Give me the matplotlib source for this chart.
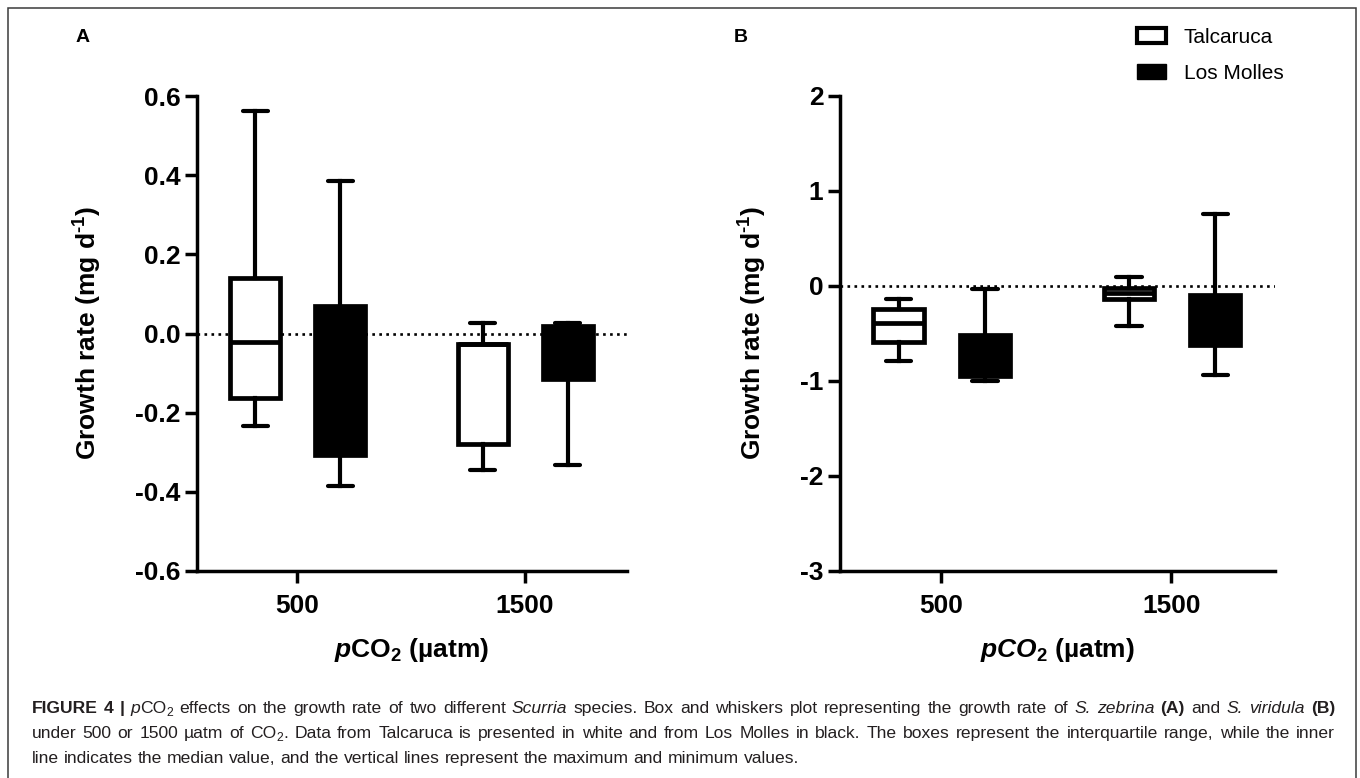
import re
import matplotlib
matplotlib.use('Agg')
import matplotlib.pyplot as plt
from matplotlib.patches import Patch, Rectangle
from matplotlib.transforms import IdentityTransform
from matplotlib.ticker import FormatStrFormatter

# box stats per CO2 level: [min, q1, median, q3, max]
co2_labels = ['500', '1500']
site_names = ['Talcaruca', 'Los Molles']

# panel A - S. zebrina
zebrina_talcaruca = [[-0.233, -0.162, -0.021, 0.140, 0.561],
                     [-0.345, -0.279, -0.027, -0.027, 0.027]]
zebrina_molles = [[-0.386, -0.306, -0.120, 0.070, 0.384],
                  [-0.332, -0.116, -0.050, 0.019, 0.027]]

# panel B - S. viridula
viridula_talcaruca = [[-0.792, -0.588, -0.388, -0.245, -0.136],
                      [-0.426, -0.136, -0.070, -0.020, 0.098]]
viridula_molles = [[-0.995, -0.943, -0.700, -0.520, -0.030],
                   [-0.935, -0.622, -0.300, -0.090, 0.754]]

yticks_a = [-0.6, -0.4, -0.2, 0.0, 0.2, 0.4, 0.6]
yticks_b = [-3, -2, -1, 0, 1, 2]

plt.rcParams['font.family'] = ['Liberation Sans', 'DejaVu Sans']
plt.rcParams['mathtext.fontset'] = 'custom'
plt.rcParams['mathtext.rm'] = 'Liberation Sans:bold'
plt.rcParams['mathtext.bf'] = 'Liberation Sans:bold'
plt.rcParams['mathtext.it'] = 'Liberation Sans:italic:bold'

W, H = 1360, 778
fig = plt.figure(figsize=(W / 100, H / 100), dpi=100)


def to_stats(rows):
    out = []
    for r in rows:
        out.append({'whislo': r[0], 'q1': r[1], 'med': r[2], 'q3': r[3],
                    'whishi': r[4], 'fliers': []})
    return out


def draw_panel(ax, tal, mol, ylim, yticks, fmt, xlabel):
    ax.axhline(0, color='black', lw=1.9, ls=':', zorder=1)
    for rows, off, face in [(tal, -0.185, 'white'), (mol, 0.19, 'black')]:
        ax.bxp(to_stats(rows), positions=[i + off for i in range(len(rows))],
               widths=0.22, capwidths=0.11, patch_artist=True, showfliers=False,
               manage_ticks=False,
               boxprops=dict(facecolor=face, edgecolor='black', linewidth=3.4,
                             joinstyle='miter'),
               whiskerprops=dict(color='black', linewidth=3.0),
               capprops=dict(color='black', linewidth=3.0, solid_capstyle='round'),
               medianprops=dict(color='black', linewidth=3.4),
               zorder=3)
    ax.set_xlim(-0.44, 1.45)
    ax.set_ylim(*ylim)
    ax.set_yticks(yticks)
    ax.yaxis.set_major_formatter(FormatStrFormatter(fmt))
    ax.set_xticks(range(len(co2_labels)))
    ax.set_xticklabels(co2_labels)
    for s in ['top', 'right']:
        ax.spines[s].set_visible(False)
    for s in ['left', 'bottom']:
        ax.spines[s].set_linewidth(2.5)
    ax.tick_params(axis='both', width=2.5, length=8.5, labelsize=19)
    ax.tick_params(axis='y', pad=3.5)
    ax.tick_params(axis='x', pad=8)
    for lab in ax.get_xticklabels() + ax.get_yticklabels():
        lab.set_fontweight('bold')
    ax.set_ylabel(r'Growth rate (mg d$^{\text{-1}}$)', fontsize=19, fontweight='bold',
                  labelpad=22)
    ax.set_xlabel(xlabel, fontsize=19, fontweight='bold', labelpad=13)


ax_a = fig.add_axes([197 / W, 1 - 571 / H, 430 / W, 475 / H])
ax_b = fig.add_axes([840 / W, 1 - 571 / H, 435 / W, 475 / H])

draw_panel(ax_a, zebrina_talcaruca, zebrina_molles, (-0.6, 0.6), yticks_a, '%.1f',
           r'$\mathit{p}\mathrm{CO}_2$ (µatm)')
draw_panel(ax_b, viridula_talcaruca, viridula_molles, (-3, 2), yticks_b, '%d',
           r'$\mathit{pCO_2}$ (µatm)')

fig.text(83 / W, 1 - 38 / H, 'A', fontsize=14, fontweight='bold', ha='center', va='center')
fig.text(741 / W, 1 - 38 / H, 'B', fontsize=14, fontweight='bold', ha='center', va='center')

handles = [Patch(facecolor='white', edgecolor='black', linewidth=3),
           Patch(facecolor='black', edgecolor='black', linewidth=1)]
fig.legend(handles, site_names, loc='upper left',
           bbox_to_anchor=(1137 / W, 1 - 28 / H), frameon=False, fontsize=15,
           handlelength=1.4, handleheight=0.72, handletextpad=0.85,
           labelspacing=0.82, borderpad=0, borderaxespad=0)

# outer frame of the figure box
fig.add_artist(Rectangle((7.5 / W, -0.05), (1355.5 - 7.5) / W, 1.05 - 8 / H,
                         transform=fig.transFigure, fill=False,
                         edgecolor='#3a3a3a', lw=1.1))

# caption
caption_lines = [
    '{b:FIGURE} {b:4} {b:|} {i:p}CO{s:2} effects on the growth rate of two different '
    '{i:Scurria} species. Box and whiskers plot representing the growth rate of '
    '{i:S.} {i:zebrina} {b:(A)} and {i:S.} {i:viridula} {b:(B)}',
    'under 500 or 1500 µatm of CO{s:2}. Data from Talcaruca is presented in white and '
    'from Los Molles in black. The boxes represent the interquartile range, while the inner',
    'line indicates the median value, and the vertical lines represent the maximum '
    'and minimum values.',
]
caption_baselines = [65, 40, 15]
cap_size = 12.6
renderer = fig.canvas.get_renderer()


def make_part(text, style):
    kw = dict(fontsize=cap_size, color='#231f20', va='baseline',
              transform=IdentityTransform())
    if style == 'b':
        kw['fontweight'] = 'bold'
    elif style == 'i':
        kw['fontstyle'] = 'italic'
    elif style == 's':
        kw['fontsize'] = cap_size * 0.7
    return fig.text(0, 0, text, **kw)


x0, x1 = 31.5, 1335
for li, line in enumerate(caption_lines):
    words = []
    for w in line.split(' '):
        parts = []
        for m in re.finditer(r'\{(\w):([^}]*)\}|([^{]+)', w):
            if m.group(3):
                parts.append((m.group(3), 'r'))
            else:
                parts.append((m.group(2), m.group(1)))
        arts = []
        for txt, st in parts:
            t = make_part(txt, st)
            arts.append((t, st, t.get_window_extent(renderer).width))
        words.append(arts)
    widths = [sum(a[2] for a in w) for w in words]
    if li < 2:
        gap = (x1 - x0 - sum(widths)) / (len(words) - 1)
    else:
        gap = cap_size * 1.39 * 0.278
    x = x0
    y = caption_baselines[li]
    for w, wd in zip(words, widths):
        for t, st, pw in w:
            t.set_position((x, y - 3 if st == 's' else y))
            x += pw
        x += gap

fig.savefig('out.png', dpi=100)
